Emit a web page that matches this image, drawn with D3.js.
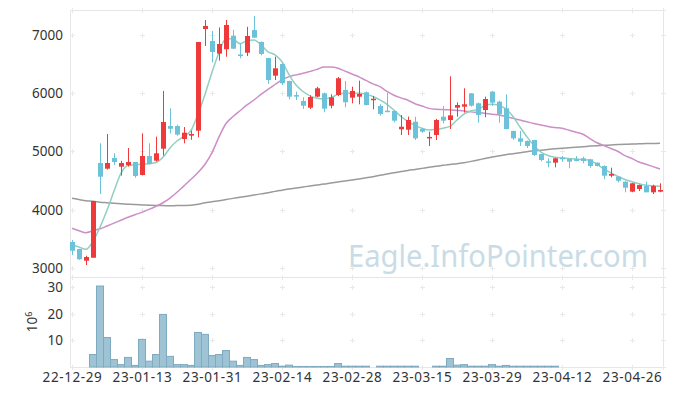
<!DOCTYPE html>
<html>
<head>
<meta charset="utf-8">
<script src="https://cdn.jsdelivr.net/npm/d3@7"></script>
<style>
    body { margin: 0; background: #fff; }
    #chart { width: 673px; height: 396px; }
    text { font-family: "Noto Sans", sans-serif; }
</style>
</head>
<body>
<div id="chart"></div>
<script>

// trading days
let dates = [
    "22-12-29", "23-01-02", "23-01-03", "23-01-04", "23-01-05", "23-01-06", "23-01-09", "23-01-10", "23-01-11", "23-01-12",
    "23-01-13", "23-01-16", "23-01-17", "23-01-18", "23-01-19", "23-01-20", "23-01-25", "23-01-26", "23-01-27", "23-01-30",
    "23-01-31", "23-02-01", "23-02-02", "23-02-03", "23-02-06", "23-02-07", "23-02-08", "23-02-09", "23-02-10", "23-02-13",
    "23-02-14", "23-02-15", "23-02-16", "23-02-17", "23-02-20", "23-02-21", "23-02-22", "23-02-23", "23-02-24", "23-02-27",
    "23-02-28", "23-03-02", "23-03-03", "23-03-06", "23-03-07", "23-03-08", "23-03-09", "23-03-10", "23-03-13", "23-03-14",
    "23-03-15", "23-03-16", "23-03-17", "23-03-20", "23-03-21", "23-03-22", "23-03-23", "23-03-24", "23-03-27", "23-03-28",
    "23-03-29", "23-03-30", "23-03-31", "23-04-03", "23-04-04", "23-04-05", "23-04-06", "23-04-07", "23-04-10", "23-04-11",
    "23-04-12", "23-04-13", "23-04-14", "23-04-17", "23-04-18", "23-04-19", "23-04-20", "23-04-21", "23-04-24", "23-04-25",
    "23-04-26", "23-04-27", "23-04-28", "23-05-02", "23-05-03"
];

let open = [
    3446, 3325, 3125, 3176, 4802, 4705, 4888, 4739, 4765, 4820,
    4596, 4922, 4842, 5048, 5437, 5437, 5214, 5272, 5357, 7103,
    6897, 6680, 6755, 6988, 6665, 6696, 7086, 6880, 6605, 6302,
    6502, 6210, 5968, 5867, 5752, 5941, 5999, 5786, 5970, 6056,
    5924, 5941, 6016, 5884, 5781, 5700, 5695, 5381, 5374, 5511,
    5386, 5235, 5283, 5597, 5540, 5752, 5769, 5999, 5827, 5712,
    6027, 5855, 5741, 5352, 5226, 5180, 5197, 4957, 4830, 4808,
    4894, 4871, 4866, 4883, 4866, 4808, 4751, 4584, 4567, 4481,
    4310, 4356, 4407, 4299, 4310
];

let close = [
    3296, 3150, 3188, 4150, 4567, 4802, 4819, 4802, 4820, 4580,
    4922, 4785, 4969, 5506, 5390, 5290, 5323, 5300, 6880, 7155,
    6708, 6845, 7172, 6765, 6660, 6983, 6954, 6674, 6227, 6428,
    6171, 5941, 5960, 5786, 5935, 6085, 5735, 5930, 6257, 5845,
    6039, 5987, 5798, 5906, 5644, 5690, 5529, 5425, 5540, 5226,
    5340, 5250, 5540, 5529, 5620, 5798, 5810, 5786, 5626, 5901,
    5838, 5638, 5386, 5226, 5168, 5094, 4940, 4854, 4820, 4883,
    4866, 4825, 4837, 4837, 4751, 4751, 4584, 4613, 4498, 4378,
    4454, 4424, 4299, 4407, 4339
];

let high = [
    3480, 3330, 3210, 4150, 5140, 5300, 4970, 4840, 5060, 4820,
    5310, 5140, 5255, 6040, 5740, 5460, 5420, 5357, 6880, 7258,
    7070, 7130, 7258, 7086, 6857, 7140, 7326, 6890, 6610, 6627,
    6510, 6215, 6027, 5930, 5964, 6110, 6010, 5982, 6280, 6210,
    6113, 6216, 6030, 5953, 5810, 6010, 5700, 5626, 5600, 5597,
    5400, 5340, 5560, 5781, 6290, 5844, 6085, 6000, 5840, 5941,
    6040, 5870, 5982, 5360, 5352, 5190, 5200, 4960, 4883, 4890,
    4922, 4880, 4920, 4911, 4870, 4810, 4760, 4722, 4570, 4490,
    4460, 4430, 4481, 4430, 4454
];

let low = [
    3222, 3140, 3050, 3176, 4270, 4690, 4770, 4585, 4740, 4550,
    4590, 4780, 4825, 4930, 5310, 5270, 5140, 5200, 5245, 6811,
    6530, 6560, 6627, 6760, 6600, 6640, 6950, 6650, 6160, 6227,
    6140, 5896, 5884, 5730, 5730, 5930, 5673, 5741, 5950, 5758,
    5827, 5810, 5790, 5724, 5615, 5683, 5500, 5283, 5283, 5197,
    5320, 5094, 5197, 5484, 5386, 5597, 5667, 5770, 5494, 5587,
    5780, 5494, 5380, 5200, 5094, 5060, 4920, 4830, 4728, 4728,
    4820, 4711, 4830, 4797, 4720, 4745, 4522, 4557, 4470, 4299,
    4300, 4320, 4299, 4270, 4300
];

// volume in millions (no bar where 0)
let volume = [
    0, 0, 0, 4.7, 30.5, 11.1, 2.8, 0.9, 3.6, 0.6,
    10.4, 2.2, 4.7, 19.8, 4.0, 0.9, 0.9, 0.6, 13.0, 12.3,
    4.3, 4.7, 6.2, 2.2, 0.6, 3.6, 2.8, 0.6, 0.9, 1.3,
    0.3, 0.7, 0.2, 0.2, 0.2, 0.2, 0.2, 0.2, 1.3, 0.3,
    0.3, 0.3, 0.3, 0, 0.3, 0.3, 0.3, 0.3, 0.3, 0.3,
    0, 0, 0.3, 0.3, 3.2, 0.7, 0.9, 0.3, 0.3, 0.3,
    0.9, 0.3, 0.6, 0.3, 0.3, 0.3, 0.3, 0.3, 0.3, 0.3,
    0, 0, 0, 0, 0, 0, 0, 0, 0, 0,
    0, 0, 0, 0, 0
];

// moving average lines
let ma5 = [
    3400, 3360, 3320, 3460, 3700, 3990, 4320, 4630, 4760, 4770,
    4780, 4790, 4810, 4900, 5060, 5180, 5260, 5360, 5640, 5980,
    6360, 6700, 6940, 6930, 6850, 6900, 6915, 6830, 6710, 6660,
    6540, 6320, 6140, 6030, 5955, 5915, 5905, 5925, 5980, 6000,
    6000, 6000, 5985, 5945, 5885, 5810, 5710, 5600, 5515, 5445,
    5400, 5370, 5380, 5400, 5430, 5540, 5640, 5700, 5720, 5790,
    5810, 5790, 5730, 5600, 5420, 5250, 5100, 4990, 4930, 4900,
    4890, 4880, 4870, 4860, 4845, 4780, 4700, 4630, 4570, 4520,
    4480, 4445, 4420, 4410, 4405
];

let ma20 = [
    3681, 3640, 3606, 3640, 3672, 3720, 3770, 3820, 3870, 3915,
    3955, 4005, 4060, 4120, 4200, 4300, 4410, 4522, 4640, 4780,
    4980, 5250, 5480, 5600, 5700, 5800, 5884, 5980, 6068, 6150,
    6230, 6285, 6315, 6342, 6375, 6410, 6450, 6450, 6430, 6380,
    6330, 6280, 6220, 6160, 6113, 6030, 5965, 5920, 5880, 5820,
    5780, 5740, 5725, 5720, 5715, 5705, 5695, 5680, 5668, 5655,
    5640, 5628, 5600, 5570, 5540, 5510, 5480, 5455, 5430, 5410,
    5398, 5365, 5330, 5295, 5220, 5150, 5100, 5050, 5000, 4930,
    4880, 4820, 4780, 4740, 4700
];

let ma120 = [
    4196, 4175, 4155, 4145, 4130, 4121, 4112, 4104, 4096, 4088,
    4083, 4078, 4074, 4071, 4070, 4071, 4073, 4076, 4095, 4118,
    4138, 4155, 4175, 4195, 4213, 4232, 4252, 4272, 4290, 4315,
    4335, 4355, 4372, 4390, 4408, 4424, 4440, 4460, 4478, 4495,
    4510, 4528, 4548, 4568, 4590, 4612, 4635, 4655, 4675, 4692,
    4710, 4728, 4745, 4762, 4778, 4790, 4805, 4830, 4855, 4880,
    4905, 4925, 4945, 4962, 4980, 4997, 5010, 5022, 5034, 5045,
    5054, 5064, 5074, 5082, 5092, 5100, 5106, 5112, 5118, 5123,
    5127, 5131, 5135, 5138, 5140
];

let priceTicks = [3000, 4000, 5000, 6000, 7000];
let volumeTicks = [10, 20, 30];
let dateTicks = ["22-12-29", "23-01-13", "23-01-31", "23-02-14", "23-02-28", "23-03-15", "23-03-29", "23-04-12", "23-04-26"];

class CandleChart {

    constructor () {
        this.width = 673;
        this.height = 396;

        this.left = 70;
        this.right = 663;
        this.top = 10;
        this.split = 277;
        this.bottom = 367;

        this.svg = d3.select("#chart").append("svg")
            .attr("width", this.width)
            .attr("height", this.height);

        this.xScale = d3.scalePoint()
            .domain(dates)
            .range([72, 72 + 7 * (dates.length - 1)]);

        this.yScale = d3.scaleLinear()
            .domain([2845, 7429])
            .range([this.split, this.top]);

        this.vScale = d3.scaleLinear()
            .domain([0, 33.9])
            .range([this.bottom, this.split]);

        this.rows = dates.map(function(d, i){
            return {date: d, o: open[i], c: close[i], h: high[i], l: low[i], v: volume[i]};
        });
    }

    draw () {
        let self = this;
        let svg = this.svg;

        // watermark
        svg.append("text")
            .attr("x", 348)
            .attr("y", 267)
            .attr("fill", "#c9dce6")
            .attr("textLength", 300)
            .attr("lengthAdjust", "spacingAndGlyphs")
            .attr("style", "font-size:31px")
            .text("Eagle.InfoPointer.com");

        // frame
        svg.append("rect")
            .attr("x", this.left + 0.5)
            .attr("y", this.top + 0.5)
            .attr("width", this.right - this.left)
            .attr("height", this.bottom - this.top)
            .attr("fill", "none")
            .attr("stroke", "#e6e6e6");

        svg.append("line")
            .attr("x1", this.left).attr("x2", this.right)
            .attr("y1", this.split + 0.5).attr("y2", this.split + 0.5)
            .attr("stroke", "#e6e6e6");

        // little crosses at grid points
        let xs = dateTicks.map(d => self.xScale(d)).concat([this.right]);
        let ys = priceTicks.map(d => self.yScale(d))
            .concat(volumeTicks.map(d => self.vScale(d)))
            .concat([this.top, this.split, this.bottom]);

        let pts = [];
        xs.forEach(function(x){ ys.forEach(function(y){ pts.push([Math.round(x) + 0.5, Math.round(y) + 0.5]); }); });

        svg.append("g").selectAll("path")
            .data(pts).enter()
            .append("path")
            .attr("d", d => "M" + (d[0] - 2.5) + "," + d[1] + "H" + (d[0] + 2.5) + "M" + d[0] + "," + (d[1] - 2.5) + "V" + (d[1] + 2.5))
            .attr("stroke", "#e8e8e8")
            .attr("stroke-width", 1);

        // y axis (price)
        let yAxis = svg.append("g")
            .attr("transform", "translate(" + this.left + ",0)")
            .call(d3.axisLeft(this.yScale).tickValues(priceTicks).tickFormat(d3.format("d")).tickSize(0).tickPadding(7));
        yAxis.select(".domain").remove();

        // y axis (volume)
        let vAxis = svg.append("g")
            .attr("transform", "translate(" + this.left + ",0)")
            .call(d3.axisLeft(this.vScale).tickValues(volumeTicks).tickFormat(d3.format("d")).tickSize(0).tickPadding(7));
        vAxis.select(".domain").remove();

        // x axis
        let xAxis = svg.append("g")
            .attr("class", "axis--x")
            .attr("transform", "translate(0," + this.bottom + ")")
            .call(d3.axisBottom(this.xScale).tickValues(dateTicks).tickSize(0).tickPadding(5));
        xAxis.select(".domain").remove();

        svg.selectAll(".tick text")
            .attr("fill", "#333")
            .attr("style", "font-size:13.5px; font-family:'Noto Sans', sans-serif");

        xAxis.selectAll(".tick text")
            .attr("style", "font-size:13.5px; letter-spacing:0.6px; font-family:'Noto Sans', sans-serif");

        let unit = svg.append("text")
            .attr("transform", "translate(37,322) rotate(-90)")
            .attr("text-anchor", "middle")
            .attr("fill", "#333")
            .attr("style", "font-size:13.5px");
        unit.append("tspan").text("10");
        unit.append("tspan").attr("dy", -5).attr("style", "font-size:9px").text("6");

        // volume bars
        svg.append("g").selectAll("rect")
            .data(this.rows.filter(d => d.v > 0)).enter()
            .append("rect")
            .attr("x", d => self.xScale(d.date) - 3.5)
            .attr("y", d => self.vScale(d.v))
            .attr("width", 7)
            .attr("height", d => self.bottom - self.vScale(d.v))
            .attr("fill", "#9dc3d4")
            .attr("stroke", "#7faabf")
            .attr("stroke-width", 1);

        // moving averages
        let lineOf = function(arr){
            return d3.line()
                .x((d, i) => self.xScale(dates[i]))
                .y(d => self.yScale(d))
                .curve(d3.curveMonotoneX)(arr);
        };

        svg.append("path").attr("d", lineOf(ma120)).attr("fill", "none")
            .attr("stroke", "#9a9a9a").attr("stroke-width", 1.5);
        svg.append("path").attr("d", lineOf(ma20)).attr("fill", "none")
            .attr("stroke", "#cc8fc6").attr("stroke-width", 1.5);
        svg.append("path").attr("d", lineOf(ma5)).attr("fill", "none")
            .attr("stroke", "#90cfc3").attr("stroke-width", 1.5);

        // candles
        let candles = svg.append("g").selectAll("g")
            .data(this.rows).enter()
            .append("g");

        let colour = d => d.c >= d.o ? "#ee3a3a" : "#6cc2d8";

        candles.append("line")
            .attr("x1", d => Math.round(self.xScale(d.date)) + 0.5)
            .attr("x2", d => Math.round(self.xScale(d.date)) + 0.5)
            .attr("y1", d => self.yScale(d.h))
            .attr("y2", d => self.yScale(d.l))
            .attr("stroke", colour)
            .attr("stroke-width", 1);

        candles.append("rect")
            .attr("x", d => Math.round(self.xScale(d.date)) - 2)
            .attr("y", d => self.yScale(Math.max(d.o, d.c)))
            .attr("width", 5)
            .attr("height", d => Math.max(1.5, Math.abs(self.yScale(d.o) - self.yScale(d.c))))
            .attr("fill", colour);
    }
}

let chart = new CandleChart();
chart.draw();

</script>
</body>
</html>
